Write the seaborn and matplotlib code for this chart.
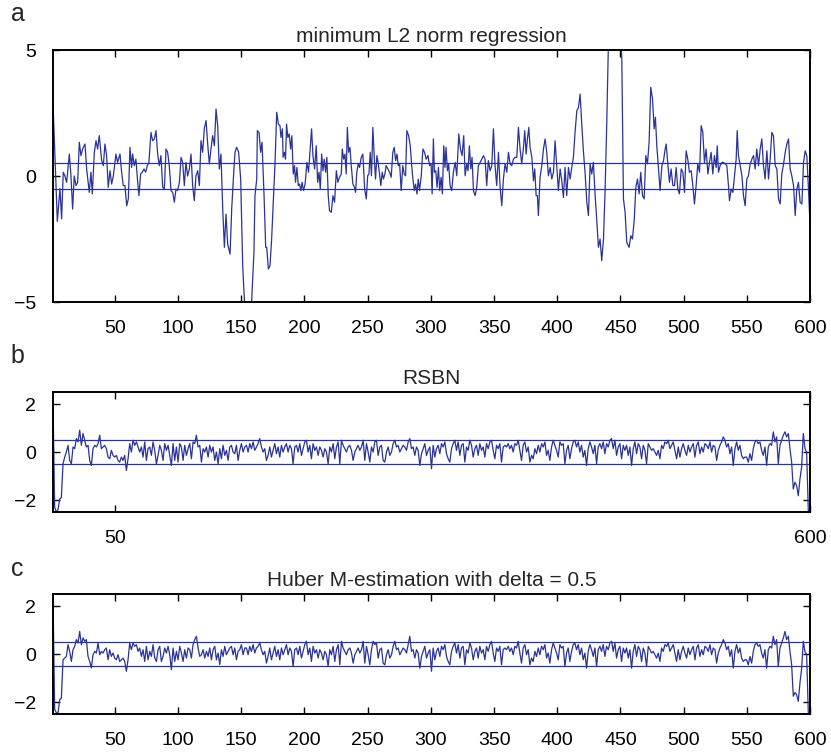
import matplotlib
matplotlib.use("Agg")
import matplotlib.pyplot as plt
import numpy as np
import seaborn as sns

# panel a: minimum L2 norm regression residuals
a_x = [1.0, 4.4, 6.5, 7.8, 9.1, 10.4, 11.8, 13.9, 15.2, 16.5,
       17.8, 19.2, 20.5, 21.8, 23.1, 24.4, 26.3, 27.6, 29.7, 31.0,
       32.1, 33.7, 35.0, 36.3, 37.6, 39.5, 40.8, 42.1, 43.4, 44.7,
       46.1, 47.4, 48.7, 50.8, 52.1, 54.0, 55.3, 56.6, 57.9, 59.3,
       60.6, 61.9, 63.2, 64.0, 65.3, 66.6, 68.0, 69.0, 70.3, 71.7,
       73.0, 74.3, 75.6, 76.9, 78.5, 79.8, 81.2, 82.5, 83.8, 85.1,
       86.4, 87.8, 89.1, 90.4, 91.7, 93.0, 94.4, 95.7, 97.0, 98.3,
       99.6, 101.0, 102.3, 103.6, 104.9, 106.2, 107.5, 108.9, 110.2, 111.5,
       112.8, 114.1, 115.5, 116.8, 118.1, 119.4, 120.7, 122.1, 123.4, 124.7,
       126.0, 127.3, 128.7, 130.0, 131.3, 132.6, 133.9, 135.3, 136.6, 137.9,
       139.2, 141.1, 142.4, 143.7, 145.0, 146.3, 147.9, 149.5, 151.1, 152.4,
       154.0, 156.5, 158.2, 160.0, 160.8, 162.2, 162.7, 164.0, 165.3, 166.4,
       168.0, 169.3, 170.1, 171.4, 172.7, 174.0, 175.4, 176.7, 178.0, 179.3,
       180.6, 181.4, 182.5, 183.1, 184.2, 185.0, 185.8, 186.8, 187.9, 189.0,
       190.0, 191.1, 192.1, 192.9, 194.0, 195.1, 196.1, 197.1, 198.1, 199.2,
       200.5, 201.9, 203.2, 204.5, 205.6, 206.7, 208.0, 209.3, 210.4, 211.5,
       212.5, 213.6, 214.6, 215.6, 216.7, 217.7, 218.8, 219.8, 221.2, 222.5,
       223.8, 225.2, 226.4, 227.7, 229.1, 229.9, 231.0, 232.0, 233.0, 233.9,
       234.9, 236.0, 237.0, 238.3, 239.6, 240.4, 241.4, 242.5, 243.6, 244.9,
       246.2, 247.6, 248.9, 250.0, 251.0, 252.0, 253.0, 254.1, 255.2, 256.2,
       257.3, 258.4, 259.4, 260.4, 261.5, 262.5, 263.6, 264.6, 266.0, 267.3,
       268.6, 269.9, 271.0, 272.1, 273.2, 274.2, 275.3, 276.5, 277.8, 278.9,
       280.0, 281.0, 282.4, 283.7, 284.8, 285.8, 286.9, 287.9, 289.0, 290.0,
       291.0, 292.4, 293.7, 295.0, 296.3, 297.7, 299.0, 300.2, 301.0, 302.0,
       302.8, 303.9, 304.9, 306.0, 307.0, 308.1, 309.1, 310.2, 311.2, 312.0,
       313.1, 314.1, 315.2, 316.5, 317.8, 319.2, 320.5, 322.1, 323.4, 324.7,
       326.0, 327.1, 328.4, 329.4, 330.5, 331.6, 332.6, 333.7, 335.0, 336.3,
       337.6, 339.0, 340.3, 341.6, 342.9, 344.2, 345.5, 346.9, 348.2, 349.5,
       350.8, 352.1, 353.5, 354.8, 356.1, 357.4, 358.7, 360.1, 361.4, 362.7,
       364.0, 365.3, 366.7, 368.0, 369.3, 370.6, 371.9, 373.3, 374.3, 375.4,
       376.4, 377.5, 378.5, 379.9, 381.2, 382.2, 383.3, 384.3, 385.1, 386.4,
       387.8, 389.1, 390.4, 391.7, 393.0, 394.4, 395.7, 397.0, 398.3, 399.6,
       400.9, 402.3, 403.6, 404.9, 406.2, 407.5, 408.9, 410.2, 411.5, 412.8,
       414.1, 415.5, 416.8, 418.1, 419.4, 420.7, 422.0, 423.4, 424.7, 426.0,
       427.3, 428.6, 430.0, 431.3, 432.6, 433.9, 435.2, 436.6, 437.9, 439.2,
       441.0, 445.0, 449.5, 451.1, 452.4, 453.7, 455.0, 456.9, 458.2, 459.5,
       460.9, 462.2, 463.5, 464.8, 466.1, 467.5, 468.8, 470.1, 471.4, 472.7,
       474.0, 475.4, 476.7, 477.7, 478.8, 480.1, 481.4, 482.8, 484.1, 485.4,
       486.2, 487.5, 488.8, 490.1, 491.5, 492.8, 494.1, 495.4, 496.7, 498.1,
       499.4, 500.7, 502.0, 503.3, 504.6, 506.0, 507.3, 508.6, 509.9, 511.2,
       512.6, 513.9, 515.2, 516.5, 517.8, 519.2, 520.5, 521.8, 523.1, 524.4,
       525.8, 526.6, 527.6, 528.9, 530.3, 531.6, 532.9, 534.2, 535.5, 536.3,
       537.6, 539.0, 540.3, 541.6, 542.4, 543.4, 544.8, 546.1, 547.4, 548.7,
       550.0, 551.3, 552.7, 554.0, 555.3, 556.6, 557.9, 559.3, 560.6, 561.9,
       563.2, 564.5, 565.9, 567.2, 568.5, 569.8, 571.1, 572.5, 573.8, 575.1,
       576.4, 577.7, 579.1, 580.4, 581.7, 583.0, 584.3, 585.6, 587.0, 588.3,
       589.6, 590.9, 592.2, 593.6, 594.9, 596.2, 597.5, 598.8, 600.0]
a_y = [2.9, -1.8, -0.5, -1.7, 0.15, 0.0, -0.25, 0.87, 0.0, -1.31,
       0.0, -0.38, -0.25, 1.34, 0.81, 1.07, 1.27, 0.28, -0.65, 0.15,
       -0.71, 0.94, 1.4, 1.07, 1.6, 0.61, 0.41, 1.27, 0.81, -0.45,
       0.21, -0.32, 0.0, 0.87, 0.54, 0.87, 0.15, -0.38, -0.38, -1.18,
       -0.91, 1.14, 0.34, 0.87, 0.41, 0.67, -0.25, -0.78, 0.08, 0.15,
       0.28, 0.15, 0.41, 0.54, 1.73, 1.4, 1.47, 1.8, 0.87, 0.41,
       0.81, -0.45, -0.52, 1.07, 0.94, 0.41, -0.58, -0.65, -1.04, -0.52,
       -0.58, -0.25, 0.74, 0.54, -0.38, 0.54, 0.0, 0.28, 0.87, -0.38,
       -0.98, 0.0, 0.21, -0.38, 1.4, 0.94, 1.87, 2.2, 1.27, 0.48,
       1.07, 1.6, 1.2, 2.66, 2.0, 0.28, 0.87, -1.31, -2.83, -1.51,
       -2.7, -3.1, -1.31, -0.12, 0.94, 1.14, 0.94, -0.12, -3.56, -4.88,
       -6.5, -6.5, -4.95, -3.03, -0.78, -0.12, 1.8, 1.73, 0.94, 1.34,
       -0.78, -2.83, -2.83, -3.69, -3.56, -2.5, -0.91, 0.54, 2.53, 2.06,
       2.0, 1.53, 1.87, 0.74, 0.94, 0.67, 2.06, 1.53, 1.67, 1.07,
       1.6, 0.08, 0.41, -0.25, 0.34, -0.38, -0.32, -0.58, -0.25, -0.58,
       -0.32, 0.54, 0.15, 1.07, 1.87, 0.81, 0.28, 1.2, -0.25, 0.15,
       -0.52, 0.87, 0.21, 0.67, 0.15, 0.74, -0.78, -1.38, -1.44, -0.78,
       -1.04, 0.21, -0.25, -0.05, 0.08, 1.07, 0.67, 0.87, 0.08, 1.93,
       0.94, 1.14, 0.41, -0.32, -0.45, -0.65, 0.15, 0.48, 0.34, 0.74,
       0.87, -0.52, -0.91, 0.01, 0.08, 0.94, 0.01, 1.93, 0.74, -0.12,
       0.81, 0.48, 0.08, -0.38, 0.15, -0.12, 0.08, 0.41, 0.28, 0.15,
       -0.05, 0.94, 1.14, 0.61, 0.87, 0.41, 0.48, -0.58, 0.41, 0.08,
       0.01, 1.8, 1.6, 1.2, 0.41, -0.12, -0.58, -0.32, -0.71, -0.12,
       -0.58, 0.01, 1.07, 0.94, 0.67, 0.81, 0.41, 0.48, -0.71, 1.47,
       0.15, 0.21, -0.45, 0.34, -0.58, -0.05, -0.71, 1.2, 0.34, 1.14,
       0.21, 0.48, -0.38, -0.58, 0.15, 0.54, 0.01, 1.67, 1.07, 0.81,
       1.6, 0.01, 0.48, 0.21, 1.2, 0.28, 0.74, -0.58, -0.78, -0.45,
       0.41, 0.54, 0.67, 0.81, 0.67, -0.38, 0.61, 0.21, 0.41, 1.87,
       0.41, -0.38, 0.94, -0.45, -1.18, -0.12, 0.48, 0.15, 0.94, 0.48,
       0.41, 0.67, 0.74, 0.74, 1.93, 1.07, 0.48, 1.14, 1.8, 0.87,
       1.47, 1.93, 1.14, 0.74, -0.19, 0.28, -0.78, -0.78, -1.57, -0.05,
       0.41, 1.07, 1.47, 0.94, 0.01, 0.34, -0.12, 0.15, 1.4, 0.41,
       -0.58, 0.28, -0.19, -0.85, 0.34, -0.78, 0.34, -0.12, 0.34, 0.74,
       1.73, 2.59, 2.72, 3.25, 2.06, 1.0, 0.15, -1.04, -1.57, 0.48,
       0.08, 0.54, -0.78, -1.77, -2.83, -2.5, -3.36, -2.5, -0.52, 2.13,
       6.5, 7.5, 6.5, 4.64, -0.91, -1.44, -2.63, -2.83, -2.37, -2.5,
       -1.77, -0.45, -0.12, -0.71, 0.15, -0.78, -0.91, 0.81, 0.48, 1.34,
       3.52, 3.06, 1.87, 2.33, 1.2, 0.28, -0.58, 0.41, 0.61, 1.07,
       1.27, 0.48, -0.25, 0.28, -0.38, -0.38, 0.34, -0.52, -0.71, 0.28,
       0.15, -0.65, 1.0, 0.67, 0.15, 0.21, -0.38, -1.11, -0.38, 0.48,
       0.15, 2.0, 1.73, 0.54, 1.07, 0.08, 0.54, 0.94, 0.08, 0.81,
       0.34, 1.2, 0.15, 0.41, 0.54, 0.54, 0.48, 0.41, -0.38, -0.98,
       -0.52, -0.65, 0.01, 0.67, 1.8, 0.81, 0.41, 0.01, -0.78, -1.18,
       -0.12, 0.01, 0.48, 0.67, 0.81, 0.28, 1.07, 0.41, 1.07, 1.47,
       0.41, -0.12, 1.0, -0.12, 0.67, 1.73, 1.6, 0.41, 0.28, -0.91,
       -1.11, 0.08, 0.48, 0.94, 1.27, 1.47, 0.28, 0.01, -0.38, -1.57,
       -0.52, -0.25, -1.04, -1.11, 0.54, 1.0, 0.8, -0.5, -1.9]

# panel b: RSBN residuals, read at even spacing across 1..600
b_y = [2.0, -2.3, -2.5, -2.4, -1.96, -1.9, -0.49, -0.21, 0.0, 0.28,
       -0.35, -0.49, 0.21, 0.14, 0.56, 0.42, 0.91, 0.28, 0.77, 0.49,
       0.21, 0.28, -0.35, -0.56, 0.14, 0.28, 0.21, 0.35, 0.7, 0.14,
       0.21, 0.28, 0.14, -0.21, -0.28, 0.07, -0.14, -0.21, -0.14, -0.35,
       -0.42, -0.21, -0.35, -0.14, -0.77, -0.28, 0.35, 0.0, 0.49, 0.28,
       0.42, 0.21, 0.0, 0.21, -0.21, 0.42, -0.35, 0.14, 0.21, -0.14,
       0.42, 0.07, -0.49, -0.14, 0.28, 0.07, -0.35, 0.35, 0.07, 0.28,
       -0.14, -0.56, 0.35, -0.35, 0.21, -0.42, 0.35, 0.21, -0.35, 0.28,
       -0.14, 0.14, 0.35, -0.28, 0.42, 0.35, 0.7, 0.21, 0.28, -0.42,
       0.14, 0.0, 0.21, -0.21, 0.28, 0.0, 0.21, -0.35, 0.0, -0.49,
       0.14, -0.28, 0.28, -0.14, 0.07, -0.35, 0.21, 0.28, 0.0, -0.07,
       0.28, -0.35, 0.07, 0.35, 0.0, 0.21,
       0.28, 0.0, 0.35, 0.14, 0.42, 0.07, 0.21, 0.35, 0.56, 0.21,
       0.0, 0.14, -0.35, -0.14, 0.21, -0.21, 0.07, 0.35, -0.07, 0.21,
       -0.21, 0.28, 0.0, 0.21, 0.35, 0.0, 0.28, 0.14, -0.49, 0.21,
       0.28, 0.0, 0.35, -0.14, 0.14, 0.42, 0.49, 0.0, 0.28, -0.28,
       0.35, 0.07, 0.21, -0.14, 0.21, 0.07, -0.21, 0.14, 0.0, -0.49,
       0.21, 0.0, 0.35, -0.28, 0.21, 0.42, -0.49, 0.49, 0.28, 0.14,
       0.0, 0.21, 0.28, 0.07, -0.35, 0.0, 0.14, 0.28, 0.07, 0.21,
       0.49, -0.35, 0.35, 0.0, -0.42, 0.21, 0.0, 0.42, 0.49, -0.14,
       0.21, 0.28, -0.35, -0.42, 0.0, 0.21, -0.14, 0.0, 0.35, 0.49,
       0.21, 0.28, 0.0, 0.14, 0.28, 0.21, 0.07, 0.42, 0.56, 0.14,
       0.21, -0.14, 0.21, 0.07, -0.56, -0.07, 0.14, 0.35, -0.14, 0.07,
       0.21, -0.7, 0.28, -0.21,
       0.14, 0.28, -0.07, 0.35, 0.21, 0.42, -0.07, -0.28, -0.42, 0.14,
       0.35, 0.49, 0.07, 0.42, -0.14, 0.28, 0.35, -0.42, 0.21, 0.07,
       0.49, 0.28, -0.21, 0.14, 0.28, -0.14, 0.35, 0.07, 0.21, -0.21,
       0.35, 0.14, 0.42, 0.49, 0.07, -0.28, 0.28, 0.14, 0.35, -0.42,
       0.21, 0.28, 0.21, 0.35, 0.14, 0.28, 0.0, 0.35, 0.28, 0.49,
       0.07, -0.35, 0.28, 0.42, 0.0, 0.21, -0.42, -0.14, -0.28, 0.14,
       -0.07, 0.28, 0.0, 0.35, 0.21, 0.42, -0.14, 0.07, -0.35, 0.21,
       0.49, 0.28, 0.07, -0.21, 0.42, 0.28, 0.35, -0.49, 0.07, 0.28,
       -0.28, 0.14, 0.42, 0.49, 0.21, 0.42, 0.0, 0.28, -0.21, 0.07,
       -0.56, 0.14, 0.42, 0.21, -0.07, 0.28, -0.49, 0.21, 0.35, 0.14,
       0.42, -0.07, 0.35, 0.21, 0.49, 0.56, 0.14, 0.49, -0.14, 0.21,
       0.35, -0.28, 0.28, 0.07,
       0.28, -0.14, 0.21, -0.56, 0.14, 0.42, -0.07, 0.35, 0.21, -0.28,
       0.28, 0.07, -0.49, 0.35, 0.21, 0.07, 0.14, 0.0, -0.14, 0.07,
       -0.28, 0.28, 0.14, 0.42, 0.35, 0.49, 0.14, 0.28, 0.42, 0.07,
       -0.28, 0.21, -0.21, 0.14, 0.35, 0.07, -0.14, 0.28, 0.0, 0.21,
       0.35, -0.21, 0.28, 0.42, -0.07, 0.21, 0.0, 0.35, 0.28, 0.14,
       0.42, 0.0, 0.28, 0.21, -0.35, 0.07, 0.28, 0.42, 0.63, 0.49,
       0.21, 0.35, -0.07, 0.21, -0.56, 0.14, 0.42, 0.07, 0.28, -0.14,
       -0.28, -0.21, -0.21, -0.42, -0.07, -0.35, 0.14, 0.42, 0.49, 0.35,
       0.42, 0.07, -0.14, 0.21, -0.56, 0.21, 0.35, 0.28, 0.84, 0.42,
       0.63, -0.49, 0.28, 0.49, 0.70, 0.84, 0.63, 0.77, 0.14, -0.42,
       -1.54, -1.26, -1.40, -1.82, -1.12, -0.63, 0.77, 0.14, 0.0, -2.45,
       -2.6]

# panel c: Huber M-estimation residuals, same even spacing
c_y = [2.3, -2.3, -2.45, -2.45, -1.9, -1.85, -0.24, -0.17, -0.1, 0.39,
       0.1, -0.31, 0.18, 0.32, 0.6, 0.46, 0.94, 0.39, 0.67, 0.53,
       0.6, -0.1, -0.31, -0.58, -0.03, 0.11, 0.04, 0.46, -0.03, 0.11,
       0.04, 0.18, 0.25, -0.24, 0.18, -0.1, 0.04, -0.17, -0.24, -0.03,
       -0.31, -0.24, -0.17, -0.31, -0.72, -0.24, 0.46, 0.18, 0.46, 0.32,
       0.39, 0.11, 0.25, -0.1, 0.18, -0.31, 0.32, -0.24, 0.11, -0.1,
       0.39, -0.17, -0.31, 0.18, 0.32, -0.31, -0.1, 0.25, 0.04, 0.32,
       -0.03, -0.65, 0.25, -0.31, 0.11, -0.24, 0.32, 0.04, -0.31, 0.18,
       -0.17, 0.25, 0.18, -0.17, 0.39, 0.6, 0.74, 0.25, -0.1, -0.03,
       0.18, -0.17, 0.11, -0.1, 0.25, -0.24, 0.18, 0.32, -0.24, 0.04,
       -0.44, 0.18, -0.1, 0.32, -0.03, 0.11, 0.25, 0.32, -0.03, 0.25,
       -0.24, 0.11, 0.18, 0.39, -0.03, 0.25,
       0.25, -0.03, 0.32, 0.11, 0.39, 0.04, 0.25, 0.32, 0.46, 0.18,
       -0.03, 0.11, -0.38, -0.1, 0.25, -0.24, 0.04, 0.32, -0.1, 0.18,
       -0.24, 0.25, -0.03, 0.18, 0.39, -0.03, 0.25, 0.11, -0.52, 0.18,
       0.25, -0.03, 0.32, -0.17, 0.11, 0.39, 0.53, -0.03, 0.25, -0.31,
       0.32, 0.04, 0.18, -0.17, 0.18, 0.04, -0.24, 0.11, -0.03, -0.52,
       0.18, -0.03, 0.32, -0.31, 0.18, 0.39, -0.45, 0.53, 0.25, 0.11,
       -0.03, 0.18, 0.25, 0.04, -0.38, -0.03, 0.11, 0.25, 0.04, 0.18,
       0.53, -0.38, 0.32, -0.03, -0.45, 0.18, 0.53, 0.39, 0.46, -0.17,
       0.18, 0.25, -0.38, -0.45, -0.03, 0.18, -0.17, -0.03, 0.32, 0.53,
       0.18, 0.25, -0.03, 0.11, 0.25, 0.18, 0.04, 0.39, 0.74, 0.11,
       0.18, -0.17, 0.18, 0.04, -0.59, -0.1, 0.11, 0.32, -0.17, 0.04,
       0.18, -0.72, 0.25, -0.24,
       0.11, 0.25, -0.1, 0.32, 0.18, 0.39, -0.1, -0.31, -0.45, 0.11,
       0.32, 0.46, 0.04, 0.39, -0.17, 0.25, 0.32, -0.45, 0.18, 0.04,
       0.46, 0.25, -0.24, 0.11, 0.25, -0.17, 0.32, 0.04, 0.18, -0.24,
       0.32, 0.11, 0.39, 0.53, 0.04, -0.31, 0.25, 0.11, 0.32, -0.45,
       0.18, 0.25, 0.18, 0.32, 0.11, 0.25, -0.03, 0.32, 0.25, 0.53,
       0.04, -0.38, 0.25, 0.39, -0.03, 0.18, -0.45, -0.17, -0.31, 0.11,
       -0.1, 0.25, -0.03, 0.32, 0.18, 0.39, -0.17, 0.04, -0.38, 0.18,
       0.46, 0.25, 0.04, -0.24, 0.39, 0.25, 0.32, -0.52, 0.04, 0.25,
       -0.31, 0.11, 0.39, 0.46, 0.18, 0.39, -0.03, 0.25, -0.24, 0.04,
       -0.59, 0.11, 0.39, 0.18, -0.1, 0.25, -0.52, 0.18, 0.32, 0.11,
       0.39, -0.1, 0.32, 0.18, 0.46, 0.53, 0.11, 0.46, -0.17, 0.18,
       0.32, -0.31, 0.25, 0.04,
       0.25, -0.17, 0.18, -0.59, 0.11, 0.39, -0.1, 0.32, 0.18, -0.31,
       0.25, 0.04, -0.52, 0.32, 0.18, 0.04, 0.11, -0.03, -0.17, 0.04,
       -0.31, 0.25, 0.11, 0.39, 0.32, 0.46, 0.11, 0.25, 0.39, 0.04,
       -0.31, 0.18, -0.24, 0.11, 0.32, 0.04, -0.17, 0.25, -0.03, 0.18,
       0.32, -0.24, 0.25, 0.39, -0.1, 0.18, -0.03, 0.32, 0.25, 0.11,
       0.39, -0.03, 0.25, 0.18, -0.38, 0.04, 0.25, 0.39, 0.6, 0.46,
       0.18, 0.32, -0.1, 0.18, -0.59, 0.11, 0.39, 0.04, 0.25, -0.17,
       -0.31, -0.24, -0.24, -0.45, -0.1, -0.38, 0.11, 0.39, 0.46, 0.32,
       0.39, 0.04, -0.17, 0.18, -0.59, 0.18, 0.32, 0.25, 0.74, 0.39,
       0.6, -0.52, 0.25, 0.46, 0.67, 0.94, 0.6, 0.74, 0.11, -0.45,
       -1.76, -1.6, -1.7, -1.97, -1.2, -0.6, 0.53, 0.1, -0.03, -2.45,
       -2.6]

titles = ["minimum L2 norm regression", "RSBN", "Huber M-estimation with delta = 0.5"]
letters = ["a", "b", "c"]
band = 0.5

sns.set_theme(style="ticks")
plt.rcParams["font.family"] = ["Liberation Sans", "DejaVu Sans"]
blue = "#2a3399"

fig = plt.figure(figsize=(8.31, 7.52), dpi=100)
ax_a = fig.add_axes([0.0638, 0.5984, 0.9109, 0.3351])
ax_b = fig.add_axes([0.0638, 0.3191, 0.9109, 0.1596])
ax_c = fig.add_axes([0.0638, 0.0505, 0.9109, 0.1596])

b_x = np.linspace(1, 600, len(b_y))
c_x = np.linspace(1, 600, len(c_y))

sns.lineplot(x=a_x, y=a_y, ax=ax_a, color=blue, lw=0.9, estimator=None, sort=False)
sns.lineplot(x=b_x, y=b_y, ax=ax_b, color=blue, lw=0.9, estimator=None, sort=False)
sns.lineplot(x=c_x, y=c_y, ax=ax_c, color=blue, lw=0.9, estimator=None, sort=False)

for ax, title in zip([ax_a, ax_b, ax_c], titles):
    ax.axhline(band, color=blue, lw=0.9)
    ax.axhline(-band, color=blue, lw=0.9)
    ax.set_xlim(1, 600)
    ax.set_title(title, fontsize=15, pad=6)
    ax.tick_params(direction="in", top=True, right=True, length=5, width=1,
                   labelsize=14, colors="black")
    ax.tick_params(axis="x", pad=13)
    ax.tick_params(axis="y", pad=12)
    for s in ax.spines.values():
        s.set_linewidth(1.4)
        s.set_color("black")

ax_a.set_ylim(-5, 5)
ax_a.set_yticks([-5, 0, 5])
ax_a.set_xticks(range(50, 601, 50))
ax_b.set_ylim(-2.5, 2.5)
ax_b.set_yticks([-2, 0, 2])
ax_b.set_xticks([50, 600])
ax_c.set_ylim(-2.5, 2.5)
ax_c.set_yticks([-2, 0, 2])
ax_c.set_xticks(range(50, 601, 50))

for letter, yy in zip(letters, [0.981, 0.526, 0.243]):
    fig.text(0.013, yy, letter, fontsize=18, va="center", ha="left")

fig.savefig("out.png", dpi=100)
